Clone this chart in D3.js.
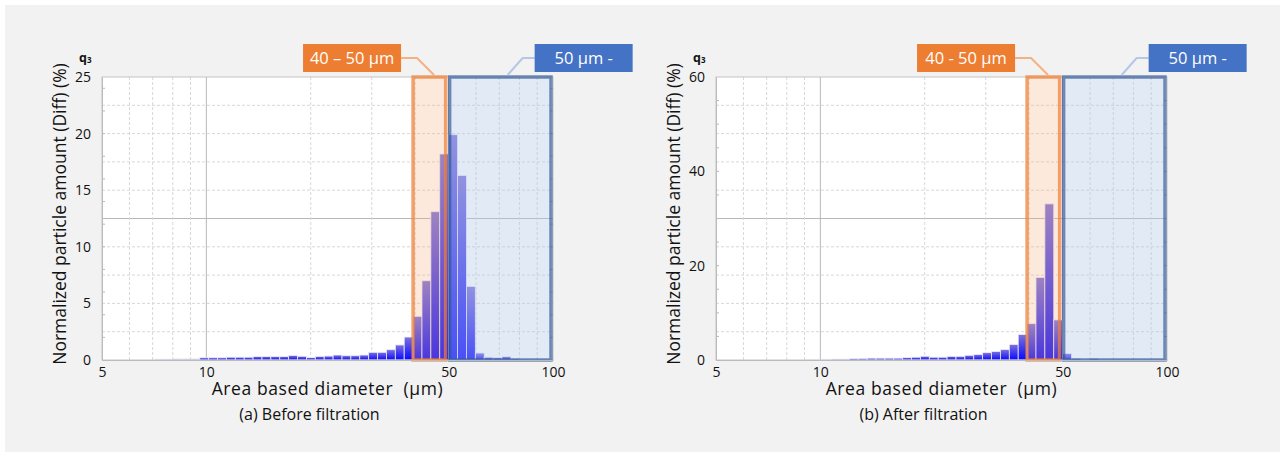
<!DOCTYPE html>
<html>
<head>
<meta charset="utf-8">
<script src="https://cdn.jsdelivr.net/npm/d3@7"></script>
<style>
  body { margin: 0; background: #fff; }
  svg text { font-family: "Open Sans", sans-serif; fill: #111; }
</style>
</head>
<body>
<svg id="chart" width="1285" height="457"></svg>
<script>
// Histogram bins: 39 per decade, edges anchored on 50 µm
const binsPerDecade = 39;
const binAnchor = 50;

// (a) before filtration, first bin index relative to 50 µm
const beforeFirstBin = -33;
const beforeValues = [
  0.1, 0.1, 0.15, 0.15, 0.15, 0.2, 0.2, 0.2, 0.25, 0.25, 0.25, 0.3, 0.3, 0.3, 0.3, 0.4, 0.33,
  0.21, 0.32, 0.35, 0.44, 0.38, 0.38, 0.44, 0.68, 0.68, 0.91, 1.33, 2.03,
  3.86, 7.0, 13.1, 18.2,
  19.9, 16.3, 6.5, 0.62, 0.25, 0.2, 0.3, 0.12, 0.05
];
const beforeFaint = 5;

// (b) after filtration
const afterFirstBin = -29;
const afterValues = [
  0.1, 0.15, 0.2, 0.2, 0.2, 0.3, 0.35, 0.4, 0.4, 0.4, 0.4, 0.5, 0.6, 0.8, 0.6, 0.6,
  0.78, 0.78, 1.0, 1.15, 1.55, 1.8, 2.2, 3.3, 5.4,
  7.7, 17.5, 33.1, 8.5,
  1.4, 0.35, 0, 0.35
];
const afterFaint = 3;

const xTicks = [5, 10, 50, 100];
const xGrid = [6, 7, 8, 9, 10, 20, 30, 40, 50, 60, 70, 80, 90];
const xMajor = [10, 50];
const beforeYTicks = [0, 5, 10, 15, 20, 25];
const afterYTicks = [0, 20, 40, 60];
const captions = ["(a) Before filtration", "(b) After filtration"];
const rangeBounds = [[40, 50], [50, 100]];
const beforeRangeLabels = ["40 – 50 µm", "50 µm -"];
const afterRangeLabels = ["40 - 50 µm", "50 µm -"];

const svg = d3.select("#chart");
svg.append("rect").attr("x", 5).attr("y", 5).attr("width", 1275).attr("height", 447).attr("fill", "#f2f2f2");

const defs = svg.append("defs");
const grad = defs.append("linearGradient").attr("id", "barGrad")
  .attr("x1", 0).attr("y1", 0).attr("x2", 0).attr("y2", 1);
grad.append("stop").attr("offset", "0%").attr("stop-color", "#7d72da");
grad.append("stop").attr("offset", "100%").attr("stop-color", "#0808ff");

const plotLeft = 102, plotRight = 553, plotTop = 77, plotBottom = 360;

function drawPanel(offsetX, values, firstBin, faint, yTicks, minorStep, labels, caption) {
  const g = svg.append("g").attr("transform", `translate(${offsetX},0)`);
  const yMax = yTicks[yTicks.length - 1];

  const x = d3.scaleLog().domain([5, 100]).range([plotLeft, plotRight]);
  const y = d3.scaleLinear().domain([0, yMax]).range([plotBottom, plotTop]);

  const bins = values.map((v, i) => {
    const k = firstBin + i;
    return {
      x0: binAnchor * Math.pow(10, k / binsPerDecade),
      x1: binAnchor * Math.pow(10, (k + 1) / binsPerDecade),
      v: v,
      faint: i < faint
    };
  });

  // plot background
  g.append("rect").attr("x", plotLeft).attr("y", plotTop)
    .attr("width", plotRight - plotLeft).attr("height", plotBottom - plotTop)
    .attr("fill", "#fff");

  // horizontal grid: 10 divisions, middle one solid
  const hGrid = d3.range(1, 10).map(i => yMax * i / 10);
  g.selectAll(".hgrid").data(hGrid).join("line")
    .attr("x1", plotLeft).attr("x2", plotRight)
    .attr("y1", d => y(d)).attr("y2", d => y(d))
    .attr("stroke", (d, i) => i === 4 ? "#b8b8b8" : "#d8d8d8")
    .attr("stroke-dasharray", (d, i) => i === 4 ? null : "3,2");

  // vertical grid
  g.selectAll(".vgrid").data(xGrid).join("line")
    .attr("x1", d => x(d)).attr("x2", d => x(d))
    .attr("y1", plotTop).attr("y2", plotBottom)
    .attr("stroke", d => xMajor.includes(d) ? "#b8b8b8" : "#d8d8d8")
    .attr("stroke-dasharray", d => xMajor.includes(d) ? null : "3,2");

  // minor y ticks on both edges
  const minor = d3.range(minorStep, yMax, minorStep);
  g.selectAll(".ytl").data(minor).join("line")
    .attr("x1", plotLeft).attr("x2", plotLeft + 3)
    .attr("y1", d => y(d)).attr("y2", d => y(d)).attr("stroke", "#bbb");
  g.selectAll(".ytr").data(minor).join("line")
    .attr("x1", plotRight - 3).attr("x2", plotRight)
    .attr("y1", d => y(d)).attr("y2", d => y(d)).attr("stroke", "#bbb");

  // bars
  g.selectAll(".bar").data(bins.filter(b => b.v > 0)).join("rect")
    .attr("x", d => x(d.x0)).attr("width", d => x(d.x1) - x(d.x0))
    .attr("y", d => y(d.v)).attr("height", d => y(0) - y(d.v))
    .attr("fill", "url(#barGrad)")
    .attr("stroke", "#ececff").attr("stroke-width", 0.8)
    .attr("opacity", d => d.faint ? 0.28 : 1);

  // frame
  g.append("rect").attr("x", plotLeft).attr("y", plotTop)
    .attr("width", plotRight - plotLeft).attr("height", plotBottom - plotTop)
    .attr("fill", "none").attr("stroke", "#c4c4c4");

  // highlighted ranges
  const [r1, r2] = rangeBounds;
  g.append("rect").attr("x", x(r1[0]) - 2).attr("y", plotTop)
    .attr("width", x(r1[1]) - x(r1[0]) - 1).attr("height", plotBottom - plotTop)
    .attr("fill", "rgba(244,177,131,0.28)")
    .attr("stroke", "rgba(238,128,52,0.72)").attr("stroke-width", 3.5);
  g.append("rect").attr("x", x(r2[0]) + 1).attr("y", plotTop)
    .attr("width", x(r2[1]) - x(r2[0]) - 3).attr("height", plotBottom - plotTop)
    .attr("fill", "rgba(180,199,231,0.38)")
    .attr("stroke", "rgba(50,88,152,0.68)").attr("stroke-width", 3.5);

  // range labels with leader lines
  const oLx = x(r1[0]) - 112, bLx = x(r2[0]) + 86;
  g.append("polyline")
    .attr("points", `${oLx + 98},58 ${oLx + 114},58 ${oLx + 131},75`)
    .attr("fill", "none").attr("stroke", "#f4b183").attr("stroke-width", 2);
  g.append("rect").attr("x", oLx).attr("y", 44).attr("width", 98).attr("height", 28).attr("fill", "#ed7d31");
  g.append("text").attr("x", oLx + 49).attr("y", 64).attr("text-anchor", "middle")
    .style("fill", "#fff").style("font-size", "16.5px").text(labels[0]);

  g.append("polyline")
    .attr("points", `${bLx},58 ${bLx - 12},58 ${bLx - 27},75`)
    .attr("fill", "none").attr("stroke", "#b4c7e7").attr("stroke-width", 2);
  g.append("rect").attr("x", bLx).attr("y", 44).attr("width", 98).attr("height", 28).attr("fill", "#4472c4");
  g.append("text").attr("x", bLx + 49).attr("y", 64).attr("text-anchor", "middle")
    .style("fill", "#fff").style("font-size", "16.5px").text(labels[1]);

  // axes
  const xAxis = d3.axisBottom(x).tickValues(xTicks).tickFormat(d3.format("d")).tickSize(0).tickPadding(7);
  const xg = g.append("g").attr("transform", `translate(0,${plotBottom})`).call(xAxis);
  xg.select(".domain").attr("stroke", "#bbb");
  xg.selectAll("text").style("font-size", "14px");

  const yAxis = d3.axisLeft(y).tickValues(yTicks).tickSize(0).tickPadding(11);
  const yg = g.append("g").attr("transform", `translate(${plotLeft},0)`).call(yAxis);
  yg.select(".domain").attr("stroke", "#bbb");
  yg.selectAll("text").style("font-size", "14px");

  // titles
  g.append("text").attr("x", (plotLeft + plotRight) / 2).attr("y", 395)
    .attr("text-anchor", "middle").style("font-size", "17.5px").style("letter-spacing", "0.6px")
    .attr("xml:space", "preserve")
    .text("Area based diameter  (µm)");
  g.append("text").attr("x", (plotLeft + plotRight) / 2 - 18).attr("y", 420)
    .attr("text-anchor", "middle").style("font-size", "16px")
    .text(caption);
  g.append("text").attr("transform", `translate(66,214) rotate(-90)`)
    .attr("text-anchor", "middle").style("font-size", "17.5px")
    .text("Normalized particle amount (Diff) (%)");

  const q = g.append("text").attr("x", 79).attr("y", 62).style("font-size", "12.5px").style("font-weight", "bold");
  q.append("tspan").text("q");
  q.append("tspan").attr("dy", 1).style("font-size", "8px").text("3");
}

drawPanel(0, beforeValues, beforeFirstBin, beforeFaint, beforeYTicks, 2, beforeRangeLabels, captions[0]);
drawPanel(614, afterValues, afterFirstBin, afterFaint, afterYTicks, 5, afterRangeLabels, captions[1]);
</script>
</body>
</html>
